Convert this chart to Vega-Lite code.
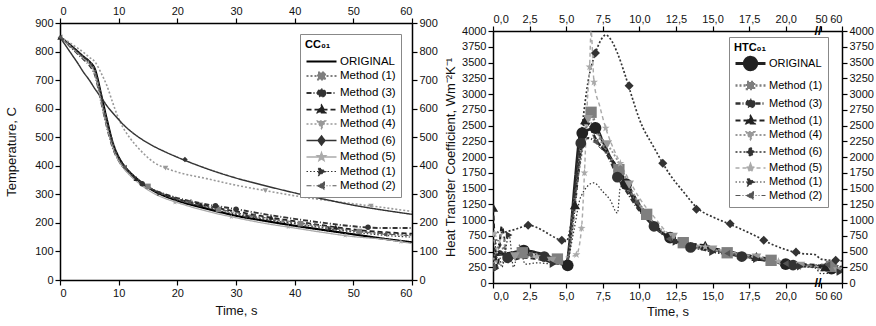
{
  "$schema": "https://vega.github.io/schema/vega-lite/v6.json",
  "background": "white",
  "padding": {"left": 5, "top": 5, "right": 0, "bottom": 0},
  "config": {
    "font": "Liberation Sans",
    "view": {"stroke": null},
    "axis": {"grid": false, "labelFontSize": 11, "titleFontSize": 13, "titleFontWeight": "normal", "domainColor": "#000", "tickColor": "#000", "labelColor": "#111", "titleColor": "#111", "domainWidth": 1.5, "tickWidth": 1.2, "tickSize": 5, "labelPadding": 2},
    "legend": {"labelFont": "Liberation Sans", "titleFont": "Liberation Sans"}
  },
  "resolve": {"scale": {"color": "independent", "strokeDash": "independent", "shape": "independent", "size": "independent", "strokeWidth": "independent"}, "legend": {"color": "independent"}},
  "spacing": 6,
  "datasets": {
    "L": [
      {"s":"0 ORIGINAL","t":0,"v":850},{"s":"0 ORIGINAL","t":1,"v":835},{"s":"0 ORIGINAL","t":2,"v":818},{"s":"0 ORIGINAL","t":3,"v":800},{"s":"0 ORIGINAL","t":4,"v":782},{"s":"0 ORIGINAL","t":5,"v":765},{"s":"0 ORIGINAL","t":6,"v":735},{"s":"0 ORIGINAL","t":7,"v":650},{"s":"0 ORIGINAL","t":8,"v":560},{"s":"0 ORIGINAL","t":9,"v":480},{"s":"0 ORIGINAL","t":10,"v":430},{"s":"0 ORIGINAL","t":11,"v":398},{"s":"0 ORIGINAL","t":12,"v":375},{"s":"0 ORIGINAL","t":14,"v":340},{"s":"0 ORIGINAL","t":16,"v":312},{"s":"0 ORIGINAL","t":18,"v":293},{"s":"0 ORIGINAL","t":20,"v":278},{"s":"0 ORIGINAL","t":25,"v":250},{"s":"0 ORIGINAL","t":30,"v":225},{"s":"0 ORIGINAL","t":35,"v":207},{"s":"0 ORIGINAL","t":40,"v":190},{"s":"0 ORIGINAL","t":45,"v":175},{"s":"0 ORIGINAL","t":50,"v":160},{"s":"0 ORIGINAL","t":55,"v":145},{"s":"0 ORIGINAL","t":60,"v":132},
      {"s":"1 Method (1)","t":0,"v":850},{"s":"1 Method (1)","t":1,"v":833},{"s":"1 Method (1)","t":2,"v":815},{"s":"1 Method (1)","t":3,"v":797},{"s":"1 Method (1)","t":4,"v":780},{"s":"1 Method (1)","t":5,"v":762},{"s":"1 Method (1)","t":6,"v":728},{"s":"1 Method (1)","t":7,"v":640},{"s":"1 Method (1)","t":8,"v":548},{"s":"1 Method (1)","t":9,"v":472},{"s":"1 Method (1)","t":10,"v":425},{"s":"1 Method (1)","t":11,"v":395},{"s":"1 Method (1)","t":12,"v":372},{"s":"1 Method (1)","t":14,"v":340},{"s":"1 Method (1)","t":16,"v":315},{"s":"1 Method (1)","t":18,"v":297},{"s":"1 Method (1)","t":20,"v":283},{"s":"1 Method (1)","t":25,"v":257},{"s":"1 Method (1)","t":30,"v":233},{"s":"1 Method (1)","t":35,"v":215},{"s":"1 Method (1)","t":40,"v":200},{"s":"1 Method (1)","t":45,"v":186},{"s":"1 Method (1)","t":50,"v":172},{"s":"1 Method (1)","t":55,"v":163},{"s":"1 Method (1)","t":60,"v":158},
      {"s":"2 Method (3)","t":0,"v":850},{"s":"2 Method (3)","t":1,"v":832},{"s":"2 Method (3)","t":2,"v":812},{"s":"2 Method (3)","t":3,"v":792},{"s":"2 Method (3)","t":4,"v":773},{"s":"2 Method (3)","t":5,"v":752},{"s":"2 Method (3)","t":6,"v":715},{"s":"2 Method (3)","t":7,"v":625},{"s":"2 Method (3)","t":8,"v":535},{"s":"2 Method (3)","t":9,"v":462},{"s":"2 Method (3)","t":10,"v":418},{"s":"2 Method (3)","t":11,"v":390},{"s":"2 Method (3)","t":12,"v":368},{"s":"2 Method (3)","t":14,"v":337},{"s":"2 Method (3)","t":16,"v":315},{"s":"2 Method (3)","t":18,"v":300},{"s":"2 Method (3)","t":20,"v":287},{"s":"2 Method (3)","t":25,"v":265},{"s":"2 Method (3)","t":30,"v":248},{"s":"2 Method (3)","t":35,"v":230},{"s":"2 Method (3)","t":40,"v":214},{"s":"2 Method (3)","t":45,"v":200},{"s":"2 Method (3)","t":50,"v":188},{"s":"2 Method (3)","t":55,"v":182},{"s":"2 Method (3)","t":60,"v":182},
      {"s":"3 Method (1)","t":0,"v":850},{"s":"3 Method (1)","t":1,"v":834},{"s":"3 Method (1)","t":2,"v":816},{"s":"3 Method (1)","t":3,"v":798},{"s":"3 Method (1)","t":4,"v":780},{"s":"3 Method (1)","t":5,"v":760},{"s":"3 Method (1)","t":6,"v":722},{"s":"3 Method (1)","t":7,"v":632},{"s":"3 Method (1)","t":8,"v":543},{"s":"3 Method (1)","t":9,"v":468},{"s":"3 Method (1)","t":10,"v":422},{"s":"3 Method (1)","t":11,"v":393},{"s":"3 Method (1)","t":12,"v":370},{"s":"3 Method (1)","t":14,"v":338},{"s":"3 Method (1)","t":16,"v":314},{"s":"3 Method (1)","t":18,"v":298},{"s":"3 Method (1)","t":20,"v":284},{"s":"3 Method (1)","t":25,"v":260},{"s":"3 Method (1)","t":30,"v":240},{"s":"3 Method (1)","t":35,"v":222},{"s":"3 Method (1)","t":40,"v":206},{"s":"3 Method (1)","t":45,"v":191},{"s":"3 Method (1)","t":50,"v":177},{"s":"3 Method (1)","t":55,"v":168},{"s":"3 Method (1)","t":60,"v":162},
      {"s":"4 Method (4)","t":0,"v":850},{"s":"4 Method (4)","t":1,"v":840},{"s":"4 Method (4)","t":2,"v":826},{"s":"4 Method (4)","t":3,"v":812},{"s":"4 Method (4)","t":4,"v":797},{"s":"4 Method (4)","t":5,"v":780},{"s":"4 Method (4)","t":6,"v":763},{"s":"4 Method (4)","t":7,"v":725},{"s":"4 Method (4)","t":8,"v":680},{"s":"4 Method (4)","t":9,"v":620},{"s":"4 Method (4)","t":10,"v":565},{"s":"4 Method (4)","t":11,"v":525},{"s":"4 Method (4)","t":12,"v":495},{"s":"4 Method (4)","t":14,"v":448},{"s":"4 Method (4)","t":16,"v":412},{"s":"4 Method (4)","t":18,"v":392},{"s":"4 Method (4)","t":20,"v":378},{"s":"4 Method (4)","t":25,"v":355},{"s":"4 Method (4)","t":30,"v":332},{"s":"4 Method (4)","t":35,"v":313},{"s":"4 Method (4)","t":40,"v":295},{"s":"4 Method (4)","t":45,"v":280},{"s":"4 Method (4)","t":50,"v":267},{"s":"4 Method (4)","t":55,"v":254},{"s":"4 Method (4)","t":60,"v":240},
      {"s":"5 Method (6)","t":0,"v":850},{"s":"5 Method (6)","t":1,"v":820},{"s":"5 Method (6)","t":2,"v":790},{"s":"5 Method (6)","t":3,"v":760},{"s":"5 Method (6)","t":4,"v":728},{"s":"5 Method (6)","t":5,"v":700},{"s":"5 Method (6)","t":6,"v":668},{"s":"5 Method (6)","t":7,"v":640},{"s":"5 Method (6)","t":8,"v":610},{"s":"5 Method (6)","t":9,"v":585},{"s":"5 Method (6)","t":10,"v":562},{"s":"5 Method (6)","t":11,"v":540},{"s":"5 Method (6)","t":12,"v":522},{"s":"5 Method (6)","t":14,"v":492},{"s":"5 Method (6)","t":16,"v":468},{"s":"5 Method (6)","t":18,"v":448},{"s":"5 Method (6)","t":20,"v":430},{"s":"5 Method (6)","t":25,"v":390},{"s":"5 Method (6)","t":30,"v":357},{"s":"5 Method (6)","t":35,"v":330},{"s":"5 Method (6)","t":40,"v":305},{"s":"5 Method (6)","t":45,"v":283},{"s":"5 Method (6)","t":50,"v":262},{"s":"5 Method (6)","t":55,"v":245},{"s":"5 Method (6)","t":60,"v":230},
      {"s":"6 Method (5)","t":0,"v":850},{"s":"6 Method (5)","t":1,"v":833},{"s":"6 Method (5)","t":2,"v":814},{"s":"6 Method (5)","t":3,"v":795},{"s":"6 Method (5)","t":4,"v":776},{"s":"6 Method (5)","t":5,"v":757},{"s":"6 Method (5)","t":6,"v":720},{"s":"6 Method (5)","t":7,"v":628},{"s":"6 Method (5)","t":8,"v":538},{"s":"6 Method (5)","t":9,"v":465},{"s":"6 Method (5)","t":10,"v":418},{"s":"6 Method (5)","t":11,"v":388},{"s":"6 Method (5)","t":12,"v":365},{"s":"6 Method (5)","t":14,"v":330},{"s":"6 Method (5)","t":16,"v":303},{"s":"6 Method (5)","t":18,"v":285},{"s":"6 Method (5)","t":20,"v":271},{"s":"6 Method (5)","t":25,"v":241},{"s":"6 Method (5)","t":30,"v":218},{"s":"6 Method (5)","t":35,"v":198},{"s":"6 Method (5)","t":40,"v":182},{"s":"6 Method (5)","t":45,"v":166},{"s":"6 Method (5)","t":50,"v":152},{"s":"6 Method (5)","t":55,"v":143},{"s":"6 Method (5)","t":60,"v":128},
      {"s":"7 Method (1)","t":0,"v":850},{"s":"7 Method (1)","t":1,"v":835},{"s":"7 Method (1)","t":2,"v":817},{"s":"7 Method (1)","t":3,"v":799},{"s":"7 Method (1)","t":4,"v":781},{"s":"7 Method (1)","t":5,"v":763},{"s":"7 Method (1)","t":6,"v":732},{"s":"7 Method (1)","t":7,"v":645},{"s":"7 Method (1)","t":8,"v":552},{"s":"7 Method (1)","t":9,"v":475},{"s":"7 Method (1)","t":10,"v":427},{"s":"7 Method (1)","t":11,"v":396},{"s":"7 Method (1)","t":12,"v":373},{"s":"7 Method (1)","t":14,"v":340},{"s":"7 Method (1)","t":16,"v":314},{"s":"7 Method (1)","t":18,"v":296},{"s":"7 Method (1)","t":20,"v":281},{"s":"7 Method (1)","t":25,"v":254},{"s":"7 Method (1)","t":30,"v":230},{"s":"7 Method (1)","t":35,"v":212},{"s":"7 Method (1)","t":40,"v":197},{"s":"7 Method (1)","t":45,"v":182},{"s":"7 Method (1)","t":50,"v":168},{"s":"7 Method (1)","t":55,"v":157},{"s":"7 Method (1)","t":60,"v":150},
      {"s":"8 Method (2)","t":0,"v":850},{"s":"8 Method (2)","t":1,"v":834},{"s":"8 Method (2)","t":2,"v":815},{"s":"8 Method (2)","t":3,"v":796},{"s":"8 Method (2)","t":4,"v":778},{"s":"8 Method (2)","t":5,"v":758},{"s":"8 Method (2)","t":6,"v":725},{"s":"8 Method (2)","t":7,"v":635},{"s":"8 Method (2)","t":8,"v":545},{"s":"8 Method (2)","t":9,"v":470},{"s":"8 Method (2)","t":10,"v":424},{"s":"8 Method (2)","t":11,"v":394},{"s":"8 Method (2)","t":12,"v":371},{"s":"8 Method (2)","t":14,"v":339},{"s":"8 Method (2)","t":16,"v":316},{"s":"8 Method (2)","t":18,"v":299},{"s":"8 Method (2)","t":20,"v":285},{"s":"8 Method (2)","t":25,"v":259},{"s":"8 Method (2)","t":30,"v":236},{"s":"8 Method (2)","t":35,"v":218},{"s":"8 Method (2)","t":40,"v":203},{"s":"8 Method (2)","t":45,"v":189},{"s":"8 Method (2)","t":50,"v":173},{"s":"8 Method (2)","t":55,"v":162},{"s":"8 Method (2)","t":60,"v":155}
    ],
    "LM": [
      {"m":"1 Method (1)","t":15,"v":328},{"m":"1 Method (1)","t":27,"v":247},{"m":"1 Method (1)","t":41,"v":197},{"m":"1 Method (1)","t":51,"v":170},
      {"m":"2 Method (3)","t":14,"v":337},{"m":"2 Method (3)","t":26.5,"v":260},{"m":"2 Method (3)","t":30,"v":248},{"m":"2 Method (3)","t":52.5,"v":185},
      {"m":"3 Method (1)","t":0,"v":850},{"m":"3 Method (1)","t":13,"v":355},{"m":"3 Method (1)","t":24,"v":264},{"m":"3 Method (1)","t":36,"v":219},{"m":"3 Method (1)","t":47,"v":185},
      {"m":"4 Method (4)","t":18,"v":392},{"m":"4 Method (4)","t":35,"v":313},{"m":"4 Method (4)","t":53,"v":259},
      {"m":"5 Method (6)","t":21.3,"v":422},{"m":"5 Method (6)","t":42.3,"v":296},
      {"m":"6 Method (5)","t":19.6,"v":272},{"m":"6 Method (5)","t":29.2,"v":221},{"m":"6 Method (5)","t":38.9,"v":186},{"m":"6 Method (5)","t":48.6,"v":156},{"m":"6 Method (5)","t":58.1,"v":134},
      {"m":"7 Method (1)","t":17,"v":304},{"m":"7 Method (1)","t":32,"v":223},{"m":"7 Method (1)","t":46,"v":179},
      {"m":"8 Method (2)","t":0,"v":850},{"m":"8 Method (2)","t":11,"v":394},{"m":"8 Method (2)","t":22,"v":274},{"m":"8 Method (2)","t":33,"v":225},{"m":"8 Method (2)","t":55.4,"v":160}
    ],
    "R": [
      {"s":"0 ORIGINAL","t":0,"v":440},{"s":"0 ORIGINAL","t":0.5,"v":455},{"s":"0 ORIGINAL","t":1,"v":470},{"s":"0 ORIGINAL","t":1.5,"v":490},{"s":"0 ORIGINAL","t":2,"v":510},{"s":"0 ORIGINAL","t":2.5,"v":505},{"s":"0 ORIGINAL","t":3,"v":480},{"s":"0 ORIGINAL","t":3.5,"v":450},{"s":"0 ORIGINAL","t":4,"v":400},{"s":"0 ORIGINAL","t":4.5,"v":340},{"s":"0 ORIGINAL","t":5,"v":275},{"s":"0 ORIGINAL","t":5.3,"v":800},{"s":"0 ORIGINAL","t":5.6,"v":1600},{"s":"0 ORIGINAL","t":6,"v":2380},{"s":"0 ORIGINAL","t":6.5,"v":2430},{"s":"0 ORIGINAL","t":7,"v":2460},{"s":"0 ORIGINAL","t":7.5,"v":2250},{"s":"0 ORIGINAL","t":8,"v":2000},{"s":"0 ORIGINAL","t":8.5,"v":1800},{"s":"0 ORIGINAL","t":9,"v":1600},{"s":"0 ORIGINAL","t":9.5,"v":1380},{"s":"0 ORIGINAL","t":10,"v":1180},{"s":"0 ORIGINAL","t":11,"v":900},{"s":"0 ORIGINAL","t":12,"v":730},{"s":"0 ORIGINAL","t":13,"v":640},{"s":"0 ORIGINAL","t":14,"v":580},{"s":"0 ORIGINAL","t":15,"v":530},{"s":"0 ORIGINAL","t":16,"v":490},{"s":"0 ORIGINAL","t":17,"v":450},{"s":"0 ORIGINAL","t":18,"v":400},{"s":"0 ORIGINAL","t":19,"v":350},{"s":"0 ORIGINAL","t":20,"v":300},{"s":"0 ORIGINAL","t":21,"v":280},{"s":"0 ORIGINAL","t":21.8,"v":270},{"s":"0 ORIGINAL","t":50,"v":250},{"s":"0 ORIGINAL","t":55,"v":230},{"s":"0 ORIGINAL","t":60,"v":200},
      {"s":"1 Method (1)","t":0,"v":300},{"s":"1 Method (1)","t":0.5,"v":600},{"s":"1 Method (1)","t":1,"v":450},{"s":"1 Method (1)","t":2,"v":480},{"s":"1 Method (1)","t":3,"v":450},{"s":"1 Method (1)","t":4,"v":400},{"s":"1 Method (1)","t":4.4,"v":380},{"s":"1 Method (1)","t":5,"v":330},{"s":"1 Method (1)","t":5.5,"v":1200},{"s":"1 Method (1)","t":6,"v":2000},{"s":"1 Method (1)","t":6.5,"v":2600},{"s":"1 Method (1)","t":6.7,"v":2710},{"s":"1 Method (1)","t":7,"v":2500},{"s":"1 Method (1)","t":7.5,"v":2200},{"s":"1 Method (1)","t":8,"v":2000},{"s":"1 Method (1)","t":8.6,"v":1800},{"s":"1 Method (1)","t":9,"v":1600},{"s":"1 Method (1)","t":10,"v":1250},{"s":"1 Method (1)","t":10.5,"v":1090},{"s":"1 Method (1)","t":11,"v":930},{"s":"1 Method (1)","t":12,"v":730},{"s":"1 Method (1)","t":13,"v":640},{"s":"1 Method (1)","t":14,"v":580},{"s":"1 Method (1)","t":15,"v":530},{"s":"1 Method (1)","t":16,"v":480},{"s":"1 Method (1)","t":17,"v":440},{"s":"1 Method (1)","t":18,"v":400},{"s":"1 Method (1)","t":19,"v":360},{"s":"1 Method (1)","t":20,"v":320},{"s":"1 Method (1)","t":21,"v":290},{"s":"1 Method (1)","t":22,"v":280},{"s":"1 Method (1)","t":50,"v":280},{"s":"1 Method (1)","t":55,"v":265},{"s":"1 Method (1)","t":60,"v":240},
      {"s":"2 Method (3)","t":0,"v":350},{"s":"2 Method (3)","t":0.5,"v":500},{"s":"2 Method (3)","t":1,"v":400},{"s":"2 Method (3)","t":2,"v":450},{"s":"2 Method (3)","t":3,"v":440},{"s":"2 Method (3)","t":3.5,"v":420},{"s":"2 Method (3)","t":4,"v":400},{"s":"2 Method (3)","t":5,"v":300},{"s":"2 Method (3)","t":5.5,"v":1200},{"s":"2 Method (3)","t":6,"v":2220},{"s":"2 Method (3)","t":6.5,"v":2300},{"s":"2 Method (3)","t":7,"v":2250},{"s":"2 Method (3)","t":8,"v":1950},{"s":"2 Method (3)","t":8.5,"v":1680},{"s":"2 Method (3)","t":9,"v":1500},{"s":"2 Method (3)","t":10,"v":1150},{"s":"2 Method (3)","t":11,"v":900},{"s":"2 Method (3)","t":12,"v":700},{"s":"2 Method (3)","t":13,"v":600},{"s":"2 Method (3)","t":13.5,"v":565},{"s":"2 Method (3)","t":14,"v":550},{"s":"2 Method (3)","t":15,"v":500},{"s":"2 Method (3)","t":16,"v":460},{"s":"2 Method (3)","t":17,"v":420},{"s":"2 Method (3)","t":18,"v":380},{"s":"2 Method (3)","t":19,"v":340},{"s":"2 Method (3)","t":20,"v":300},{"s":"2 Method (3)","t":20.5,"v":285},{"s":"2 Method (3)","t":21,"v":270},{"s":"2 Method (3)","t":22,"v":260},{"s":"2 Method (3)","t":50,"v":280},{"s":"2 Method (3)","t":60,"v":250},
      {"s":"3 Method (1)","t":0,"v":1200},{"s":"3 Method (1)","t":0.3,"v":250},{"s":"3 Method (1)","t":0.6,"v":900},{"s":"3 Method (1)","t":1,"v":350},{"s":"3 Method (1)","t":2,"v":400},{"s":"3 Method (1)","t":3,"v":380},{"s":"3 Method (1)","t":4,"v":330},{"s":"3 Method (1)","t":5,"v":290},{"s":"3 Method (1)","t":5.3,"v":700},{"s":"3 Method (1)","t":5.6,"v":1240},{"s":"3 Method (1)","t":6,"v":2100},{"s":"3 Method (1)","t":6.3,"v":2590},{"s":"3 Method (1)","t":6.6,"v":2500},{"s":"3 Method (1)","t":7,"v":2300},{"s":"3 Method (1)","t":8,"v":2000},{"s":"3 Method (1)","t":9,"v":1650},{"s":"3 Method (1)","t":10,"v":1250},{"s":"3 Method (1)","t":11,"v":950},{"s":"3 Method (1)","t":12,"v":720},{"s":"3 Method (1)","t":13,"v":650},{"s":"3 Method (1)","t":14,"v":610},{"s":"3 Method (1)","t":14.5,"v":600},{"s":"3 Method (1)","t":15,"v":560},{"s":"3 Method (1)","t":16,"v":510},{"s":"3 Method (1)","t":17,"v":460},{"s":"3 Method (1)","t":18,"v":420},{"s":"3 Method (1)","t":19,"v":380},{"s":"3 Method (1)","t":20,"v":330},{"s":"3 Method (1)","t":21,"v":300},{"s":"3 Method (1)","t":22,"v":290},{"s":"3 Method (1)","t":50,"v":260},{"s":"3 Method (1)","t":52,"v":255},{"s":"3 Method (1)","t":60,"v":230},
      {"s":"4 Method (4)","t":0,"v":400},{"s":"4 Method (4)","t":0.5,"v":300},{"s":"4 Method (4)","t":1,"v":420},{"s":"4 Method (4)","t":2,"v":420},{"s":"4 Method (4)","t":3,"v":400},{"s":"4 Method (4)","t":4,"v":350},{"s":"4 Method (4)","t":5,"v":300},{"s":"4 Method (4)","t":5.5,"v":1000},{"s":"4 Method (4)","t":6,"v":2200},{"s":"4 Method (4)","t":6.5,"v":2600},{"s":"4 Method (4)","t":7,"v":2400},{"s":"4 Method (4)","t":7.8,"v":2200},{"s":"4 Method (4)","t":8.5,"v":1950},{"s":"4 Method (4)","t":9.3,"v":1560},{"s":"4 Method (4)","t":10,"v":1250},{"s":"4 Method (4)","t":11,"v":950},{"s":"4 Method (4)","t":12.3,"v":730},{"s":"4 Method (4)","t":13,"v":650},{"s":"4 Method (4)","t":14,"v":580},{"s":"4 Method (4)","t":15,"v":530},{"s":"4 Method (4)","t":16,"v":480},{"s":"4 Method (4)","t":17,"v":440},{"s":"4 Method (4)","t":18,"v":400},{"s":"4 Method (4)","t":19,"v":350},{"s":"4 Method (4)","t":20,"v":300},{"s":"4 Method (4)","t":21,"v":270},{"s":"4 Method (4)","t":22,"v":250},{"s":"4 Method (4)","t":50,"v":200},{"s":"4 Method (4)","t":60,"v":180},
      {"s":"5 Method (6)","t":0,"v":830},{"s":"5 Method (6)","t":0.5,"v":800},{"s":"5 Method (6)","t":1,"v":820},{"s":"5 Method (6)","t":1.5,"v":850},{"s":"5 Method (6)","t":2,"v":890},{"s":"5 Method (6)","t":2.5,"v":915},{"s":"5 Method (6)","t":3,"v":880},{"s":"5 Method (6)","t":3.5,"v":820},{"s":"5 Method (6)","t":4,"v":750},{"s":"5 Method (6)","t":4.5,"v":690},{"s":"5 Method (6)","t":5,"v":660},{"s":"5 Method (6)","t":5.3,"v":900},{"s":"5 Method (6)","t":5.7,"v":1600},{"s":"5 Method (6)","t":6.1,"v":2500},{"s":"5 Method (6)","t":6.5,"v":3200},{"s":"5 Method (6)","t":7,"v":3650},{"s":"5 Method (6)","t":7.5,"v":3900},{"s":"5 Method (6)","t":7.7,"v":3940},{"s":"5 Method (6)","t":8,"v":3880},{"s":"5 Method (6)","t":8.5,"v":3650},{"s":"5 Method (6)","t":9,"v":3320},{"s":"5 Method (6)","t":9.5,"v":2950},{"s":"5 Method (6)","t":10,"v":2600},{"s":"5 Method (6)","t":11,"v":2150},{"s":"5 Method (6)","t":12,"v":1750},{"s":"5 Method (6)","t":13,"v":1450},{"s":"5 Method (6)","t":14,"v":1180},{"s":"5 Method (6)","t":15,"v":1050},{"s":"5 Method (6)","t":16,"v":950},{"s":"5 Method (6)","t":17,"v":850},{"s":"5 Method (6)","t":18,"v":740},{"s":"5 Method (6)","t":19,"v":620},{"s":"5 Method (6)","t":20,"v":530},{"s":"5 Method (6)","t":21,"v":470},{"s":"5 Method (6)","t":22,"v":450},{"s":"5 Method (6)","t":50,"v":380},{"s":"5 Method (6)","t":60,"v":350},
      {"s":"6 Method (5)","t":0,"v":800},{"s":"6 Method (5)","t":0.3,"v":500},{"s":"6 Method (5)","t":0.6,"v":780},{"s":"6 Method (5)","t":1,"v":430},{"s":"6 Method (5)","t":1.5,"v":420},{"s":"6 Method (5)","t":2,"v":420},{"s":"6 Method (5)","t":3,"v":420},{"s":"6 Method (5)","t":4,"v":415},{"s":"6 Method (5)","t":5,"v":415},{"s":"6 Method (5)","t":5.5,"v":430},{"s":"6 Method (5)","t":5.7,"v":450},{"s":"6 Method (5)","t":6.05,"v":870},{"s":"6 Method (5)","t":6.25,"v":1750},{"s":"6 Method (5)","t":6.45,"v":2900},{"s":"6 Method (5)","t":6.6,"v":3430},{"s":"6 Method (5)","t":6.7,"v":4000},{"s":"6 Method (5)","t":6.9,"v":3190},{"s":"6 Method (5)","t":7.3,"v":2800},{"s":"6 Method (5)","t":7.7,"v":2460},{"s":"6 Method (5)","t":8.2,"v":2150},{"s":"6 Method (5)","t":8.7,"v":1900},{"s":"6 Method (5)","t":9.5,"v":1550},{"s":"6 Method (5)","t":10,"v":1350},{"s":"6 Method (5)","t":11,"v":1050},{"s":"6 Method (5)","t":12,"v":780},{"s":"6 Method (5)","t":13,"v":660},{"s":"6 Method (5)","t":14,"v":600},{"s":"6 Method (5)","t":15,"v":550},{"s":"6 Method (5)","t":16,"v":500},{"s":"6 Method (5)","t":17,"v":460},{"s":"6 Method (5)","t":18,"v":420},{"s":"6 Method (5)","t":19,"v":370},{"s":"6 Method (5)","t":20,"v":320},{"s":"6 Method (5)","t":21,"v":290},{"s":"6 Method (5)","t":22,"v":270},{"s":"6 Method (5)","t":50,"v":240},{"s":"6 Method (5)","t":60,"v":200},
      {"s":"7 Method (1)","t":0,"v":230},{"s":"7 Method (1)","t":0.3,"v":700},{"s":"7 Method (1)","t":0.6,"v":250},{"s":"7 Method (1)","t":1.1,"v":760},{"s":"7 Method (1)","t":1.4,"v":250},{"s":"7 Method (1)","t":1.8,"v":600},{"s":"7 Method (1)","t":2.2,"v":300},{"s":"7 Method (1)","t":3,"v":320},{"s":"7 Method (1)","t":4.1,"v":300},{"s":"7 Method (1)","t":5,"v":290},{"s":"7 Method (1)","t":5.5,"v":800},{"s":"7 Method (1)","t":6,"v":1370},{"s":"7 Method (1)","t":6.9,"v":1590},{"s":"7 Method (1)","t":7.5,"v":1450},{"s":"7 Method (1)","t":8,"v":1320},{"s":"7 Method (1)","t":8.5,"v":1110},{"s":"7 Method (1)","t":8.7,"v":1520},{"s":"7 Method (1)","t":9,"v":1550},{"s":"7 Method (1)","t":10,"v":1200},{"s":"7 Method (1)","t":11,"v":920},{"s":"7 Method (1)","t":12,"v":720},{"s":"7 Method (1)","t":12.5,"v":650},{"s":"7 Method (1)","t":13,"v":600},{"s":"7 Method (1)","t":14,"v":540},{"s":"7 Method (1)","t":15,"v":490},{"s":"7 Method (1)","t":16,"v":450},{"s":"7 Method (1)","t":17,"v":410},{"s":"7 Method (1)","t":18,"v":380},{"s":"7 Method (1)","t":19,"v":330},{"s":"7 Method (1)","t":20,"v":290},{"s":"7 Method (1)","t":21,"v":260},{"s":"7 Method (1)","t":22,"v":240},{"s":"7 Method (1)","t":50,"v":150},{"s":"7 Method (1)","t":59,"v":175},{"s":"7 Method (1)","t":60,"v":180},
      {"s":"8 Method (2)","t":0,"v":250},{"s":"8 Method (2)","t":0.5,"v":450},{"s":"8 Method (2)","t":1,"v":380},{"s":"8 Method (2)","t":2,"v":420},{"s":"8 Method (2)","t":2.5,"v":450},{"s":"8 Method (2)","t":3,"v":430},{"s":"8 Method (2)","t":4,"v":400},{"s":"8 Method (2)","t":5,"v":320},{"s":"8 Method (2)","t":5.5,"v":1100},{"s":"8 Method (2)","t":6,"v":2000},{"s":"8 Method (2)","t":6.5,"v":2500},{"s":"8 Method (2)","t":7,"v":2240},{"s":"8 Method (2)","t":8,"v":2000},{"s":"8 Method (2)","t":9,"v":1600},{"s":"8 Method (2)","t":9.8,"v":1280},{"s":"8 Method (2)","t":10,"v":1200},{"s":"8 Method (2)","t":11,"v":900},{"s":"8 Method (2)","t":12,"v":700},{"s":"8 Method (2)","t":13,"v":610},{"s":"8 Method (2)","t":14,"v":550},{"s":"8 Method (2)","t":15,"v":510},{"s":"8 Method (2)","t":16,"v":470},{"s":"8 Method (2)","t":17,"v":430},{"s":"8 Method (2)","t":18,"v":390},{"s":"8 Method (2)","t":19,"v":350},{"s":"8 Method (2)","t":20,"v":310},{"s":"8 Method (2)","t":21,"v":280},{"s":"8 Method (2)","t":22,"v":270},{"s":"8 Method (2)","t":50,"v":300},{"s":"8 Method (2)","t":53,"v":290},{"s":"8 Method (2)","t":60,"v":270}
    ],
    "RM": [
      {"m":"0 ORIGINAL","t":2.1,"v":515},{"m":"0 ORIGINAL","t":5.1,"v":280},{"m":"0 ORIGINAL","t":6.1,"v":2380},{"m":"0 ORIGINAL","t":7.0,"v":2460},{"m":"0 ORIGINAL","t":9.1,"v":1570},{"m":"0 ORIGINAL","t":12.1,"v":720},{"m":"0 ORIGINAL","t":20,"v":300},{"m":"0 ORIGINAL","t":55,"v":230},
      {"m":"1 Method (1)","t":2,"v":480},{"m":"1 Method (1)","t":4.4,"v":380},{"m":"1 Method (1)","t":6.7,"v":2710},{"m":"1 Method (1)","t":8.6,"v":1800},{"m":"1 Method (1)","t":10.5,"v":1090},{"m":"1 Method (1)","t":13,"v":640},{"m":"1 Method (1)","t":16,"v":480},{"m":"1 Method (1)","t":19,"v":360},{"m":"1 Method (1)","t":55,"v":265},
      {"m":"2 Method (3)","t":1,"v":400},{"m":"2 Method (3)","t":3.5,"v":420},{"m":"2 Method (3)","t":6,"v":2220},{"m":"2 Method (3)","t":8.5,"v":1680},{"m":"2 Method (3)","t":11,"v":900},{"m":"2 Method (3)","t":13.5,"v":565},{"m":"2 Method (3)","t":17,"v":420},{"m":"2 Method (3)","t":20.5,"v":285},
      {"m":"3 Method (1)","t":0,"v":1200},{"m":"3 Method (1)","t":5.6,"v":1240},{"m":"3 Method (1)","t":6.3,"v":2590},{"m":"3 Method (1)","t":14.5,"v":600},{"m":"3 Method (1)","t":18,"v":420},{"m":"3 Method (1)","t":52,"v":255},
      {"m":"4 Method (4)","t":1.5,"v":420},{"m":"4 Method (4)","t":4,"v":350},{"m":"4 Method (4)","t":6.5,"v":2600},{"m":"4 Method (4)","t":7.8,"v":2200},{"m":"4 Method (4)","t":9.3,"v":1560},{"m":"4 Method (4)","t":12.3,"v":730},{"m":"4 Method (4)","t":15,"v":530},{"m":"4 Method (4)","t":18,"v":400},{"m":"4 Method (4)","t":21,"v":270},{"m":"4 Method (4)","t":58,"v":185},
      {"m":"5 Method (6)","t":2.4,"v":915},{"m":"5 Method (6)","t":4.7,"v":680},{"m":"5 Method (6)","t":7.0,"v":3650},{"m":"5 Method (6)","t":9.3,"v":3130},{"m":"5 Method (6)","t":11.6,"v":1900},{"m":"5 Method (6)","t":13.9,"v":1170},{"m":"5 Method (6)","t":16.2,"v":940},{"m":"5 Method (6)","t":18.5,"v":680},{"m":"5 Method (6)","t":20.7,"v":490},{"m":"5 Method (6)","t":57,"v":360},
      {"m":"6 Method (5)","t":0.1,"v":780},{"m":"6 Method (5)","t":3,"v":420},{"m":"6 Method (5)","t":5.7,"v":450},{"m":"6 Method (5)","t":6.05,"v":870},{"m":"6 Method (5)","t":6.25,"v":1750},{"m":"6 Method (5)","t":6.6,"v":3430},{"m":"6 Method (5)","t":6.9,"v":3190},{"m":"6 Method (5)","t":7.7,"v":2460},{"m":"6 Method (5)","t":8.7,"v":1900},{"m":"6 Method (5)","t":14.5,"v":575},{"m":"6 Method (5)","t":19.5,"v":345},
      {"m":"7 Method (1)","t":0.2,"v":230},{"m":"7 Method (1)","t":1.1,"v":760},{"m":"7 Method (1)","t":4.1,"v":300},{"m":"7 Method (1)","t":12.5,"v":650},{"m":"7 Method (1)","t":15,"v":490},{"m":"7 Method (1)","t":18,"v":380},{"m":"7 Method (1)","t":21,"v":260},{"m":"7 Method (1)","t":59,"v":175},
      {"m":"8 Method (2)","t":0,"v":250},{"m":"8 Method (2)","t":2.5,"v":450},{"m":"8 Method (2)","t":7,"v":2240},{"m":"8 Method (2)","t":9.8,"v":1280},{"m":"8 Method (2)","t":12,"v":700},{"m":"8 Method (2)","t":16,"v":470},{"m":"8 Method (2)","t":20,"v":310},{"m":"8 Method (2)","t":53,"v":290}
    ],
    "BRK": [
      {"t":36,"v":0,"txt":"//"},{"t":36,"v":4000,"txt":"//"}
    ]
  },
  "hconcat": [
    {
      "width": 352,
      "height": 257,
      "resolve": {"axis": {"x": "independent", "y": "independent"}},
      "layer": [
        {
          "data": {"name": "L"},
          "mark": {"type": "line", "interpolate": "monotone"},
          "encoding": {
            "x": {"field": "t", "type": "quantitative", "scale": {"domain": [0, 60], "nice": false}, "axis": {"orient": "bottom", "title": "Time, s", "values": [0,10,20,30,40,50,60], "titlePadding": 6}},
            "y": {"field": "v", "type": "quantitative", "scale": {"domain": [0, 900], "nice": false}, "axis": {"orient": "left", "title": "Temperature, C", "values": [0,100,200,300,400,500,600,700,800,900], "titlePadding": 16}},
            "color": {"field": "s", "type": "nominal",
              "scale": {"domain": ["0 ORIGINAL","1 Method (1)","2 Method (3)","3 Method (1)","4 Method (4)","5 Method (6)","6 Method (5)","7 Method (1)","8 Method (2)"], "range": ["#000000","#7f7f7f","#333333","#222222","#999999","#333333","#aaaaaa","#333333","#555555"]},
              "legend": {"title": "CC₀₁", "orient": "top-right", "offset": 11, "fillColor": "white", "strokeColor": "#888", "padding": 5, "labelExpr": "slice(datum.label, 2)", "symbolSize": 100, "labelFontSize": 11.5, "titleFontSize": 11, "titleFontWeight": "bold", "rowPadding": 0.5, "labelOffset": 22, "titlePadding": 5,
                "encode": {"symbols": {"update": {
                  "shape": {"signal": "['M-1,0H5','M-1,0H5M1.3,-0.7H2.7V0.7H1.3Z','M-1,0H5M2.75,0A0.75,0.75,0,1,1,1.25,0A0.75,0.75,0,1,1,2.75,0Z','M-1,0H5M2,-0.85L2.8,0.6H1.2Z','M-1,0H5M2,0.85L2.8,-0.6H1.2Z','M-1,0H5M2,-0.9L2.7,0L2,0.9L1.3,0Z','M-1,0H5M2,-0.9L2.217,-0.299L2.856,-0.278L2.352,0.114L2.529,0.728L2,0.37L1.471,0.728L1.648,0.114L1.144,-0.278L1.783,-0.299Z','M-1,0H5M2.85,0L1.4,0.8V-0.8Z','M-1,0H5M1.15,0L2.6,0.8V-0.8Z'][toNumber(slice(datum.value,0,1))]"},
                  "fill": {"signal": "['#000000','#7f7f7f','#333333','#222222','#999999','#333333','#aaaaaa','#333333','#555555'][toNumber(slice(datum.value,0,1))]"},
                  "strokeWidth": {"signal": "toNumber(slice(datum.value,0,1)) == 0 ? 2.5 : 1"}
                }}}}},
            "strokeDash": {"field": "s", "type": "nominal",
              "scale": {"domain": ["0 ORIGINAL","1 Method (1)","2 Method (3)","3 Method (1)","4 Method (4)","5 Method (6)","6 Method (5)","7 Method (1)","8 Method (2)"], "range": [[1,0],[2,2],[5,2,1,2],[5,3],[2,2],[1,0],[1,0],[1.5,2],[5,2,1,2,1,2]]}},
            "strokeWidth": {"field": "s", "type": "ordinal",
              "scale": {"domain": ["0 ORIGINAL","1 Method (1)","2 Method (3)","3 Method (1)","4 Method (4)","5 Method (6)","6 Method (5)","7 Method (1)","8 Method (2)"], "range": [2.2,1,1,1,1,1,1,1,1]}, "legend": null}
          }
        },
        {
          "data": {"name": "LM"},
          "mark": {"type": "point", "filled": true, "opacity": 1},
          "encoding": {
            "x": {"field": "t", "type": "quantitative", "axis": {"orient": "top", "title": null, "values": [0,10,20,30,40,50,60]}},
            "y": {"field": "v", "type": "quantitative", "axis": {"orient": "right", "title": null, "values": [0,100,200,300,400,500,600,700,800,900]}},
            "color": {"field": "m", "type": "nominal", "legend": null},
            "shape": {"field": "m", "type": "nominal", "legend": null,
              "scale": {"domain": ["0 ORIGINAL","1 Method (1)","2 Method (3)","3 Method (1)","4 Method (4)","5 Method (6)","6 Method (5)","7 Method (1)","8 Method (2)","zz"], "range": ["circle","square","circle","triangle-up","triangle-down","diamond","M0,-1L0.235,-0.324L0.951,-0.309L0.38,0.124L0.588,0.809L0,0.4L-0.588,0.809L-0.38,0.124L-0.951,-0.309L-0.235,-0.324Z","triangle-right","triangle-left","circle"]}},
            "size": {"value": 30}
          }
        }
      ]
    },
    {
      "width": 349,
      "height": 260,
      "resolve": {"axis": {"x": "independent", "y": "independent"}},
      "layer": [
        {
          "data": {"name": "R"},
          "mark": {"type": "line", "interpolate": "monotone", "clip": true},
          "encoding": {
            "x": {"field": "t", "type": "quantitative", "scale": {"domain": [0, 22, 50, 60], "range": [0, 322, 328, 349], "nice": false, "zero": false}, "axis": {"orient": "bottom", "title": "Time, s", "labelOverlap": false, "values": [0,2.5,5,7.5,10,12.5,15,17.5,20,50,60], "labelExpr": "datum.value >= 50 ? format(datum.value, 'd') : replace(format(datum.value, '.1f'), '.', ',')", "titlePadding": 4}},
            "y": {"field": "v", "type": "quantitative", "scale": {"domain": [0, 4000], "range": [260, 8], "nice": false}, "axis": {"orient": "left", "format": "d", "title": "Heat Transfer Coefficient, Wm⁻²K⁻¹", "values": [0,250,500,750,1000,1250,1500,1750,2000,2250,2500,2750,3000,3250,3500,3750,4000], "titlePadding": 4}},
            "color": {"field": "s", "type": "nominal",
              "scale": {"domain": ["0 ORIGINAL","1 Method (1)","2 Method (3)","3 Method (1)","4 Method (4)","5 Method (6)","6 Method (5)","7 Method (1)","8 Method (2)"], "range": ["#222222","#7f7f7f","#333333","#222222","#999999","#333333","#aaaaaa","#333333","#555555"]},
              "legend": {"title": "HTC₀₁", "orient": "top-right", "offset": 14, "fillColor": "white", "strokeColor": "#888", "padding": 5, "labelExpr": "slice(datum.label, 2)", "symbolSize": 100, "labelFontSize": 11, "titleFontSize": 11, "titleFontWeight": "bold", "rowPadding": 0, "labelOffset": 22, "titlePadding": 4,
                "encode": {"symbols": {"update": {
                  "shape": {"signal": "['M-1,0H5M3.25,0A1.25,1.25,0,1,1,0.75,0A1.25,1.25,0,1,1,3.25,0Z','M-1,0H5M1.3,-0.7H2.7V0.7H1.3Z','M-1,0H5M2.75,0A0.75,0.75,0,1,1,1.25,0A0.75,0.75,0,1,1,2.75,0Z','M-1,0H5M2,-0.85L2.8,0.6H1.2Z','M-1,0H5M2,0.85L2.8,-0.6H1.2Z','M-1,0H5M2,-0.9L2.7,0L2,0.9L1.3,0Z','M-1,0H5M2,-0.9L2.217,-0.299L2.856,-0.278L2.352,0.114L2.529,0.728L2,0.37L1.471,0.728L1.648,0.114L1.144,-0.278L1.783,-0.299Z','M-1,0H5M2.85,0L1.4,0.8V-0.8Z','M-1,0H5M1.15,0L2.6,0.8V-0.8Z'][toNumber(slice(datum.value,0,1))]"},
                  "fill": {"signal": "['#222222','#7f7f7f','#333333','#222222','#999999','#333333','#aaaaaa','#333333','#555555'][toNumber(slice(datum.value,0,1))]"},
                  "strokeWidth": {"signal": "toNumber(slice(datum.value,0,1)) == 0 ? 2.5 : 1"}
                }}}}},
            "strokeDash": {"field": "s", "type": "nominal",
              "scale": {"domain": ["0 ORIGINAL","1 Method (1)","2 Method (3)","3 Method (1)","4 Method (4)","5 Method (6)","6 Method (5)","7 Method (1)","8 Method (2)"], "range": [[1,0],[2,2],[5,2,1,2],[5,3],[2,2],[2,2],[4,3],[1.5,2],[5,2,1,2,1,2]]}},
            "strokeWidth": {"field": "s", "type": "ordinal",
              "scale": {"domain": ["0 ORIGINAL","1 Method (1)","2 Method (3)","3 Method (1)","4 Method (4)","5 Method (6)","6 Method (5)","7 Method (1)","8 Method (2)"], "range": [2.8,1,1,1,1,1,1,1,1]}, "legend": null}
          }
        },
        {
          "data": {"name": "RM"},
          "mark": {"type": "point", "filled": true, "opacity": 1, "clip": true},
          "encoding": {
            "x": {"field": "t", "type": "quantitative", "axis": {"orient": "top", "offset": -8, "title": null, "labelOverlap": false, "values": [0,2.5,5,7.5,10,12.5,15,17.5,20,50,60], "labelExpr": "datum.value >= 50 ? format(datum.value, 'd') : replace(format(datum.value, '.1f'), '.', ',')"}},
            "y": {"field": "v", "type": "quantitative", "axis": {"orient": "right", "format": "d", "title": null, "values": [0,250,500,750,1000,1250,1500,1750,2000,2250,2500,2750,3000,3250,3500,3750,4000]}},
            "color": {"field": "m", "type": "nominal", "legend": null},
            "shape": {"field": "m", "type": "nominal", "legend": null,
              "scale": {"domain": ["0 ORIGINAL","1 Method (1)","2 Method (3)","3 Method (1)","4 Method (4)","5 Method (6)","6 Method (5)","7 Method (1)","8 Method (2)","zz"], "range": ["circle","square","circle","triangle-up","triangle-down","diamond","M0,-1L0.235,-0.324L0.951,-0.309L0.38,0.124L0.588,0.809L0,0.4L-0.588,0.809L-0.38,0.124L-0.951,-0.309L-0.235,-0.324Z","triangle-right","triangle-left","circle"]}},
            "size": {"field": "m", "type": "ordinal", "legend": null,
              "scale": {"domain": ["0 ORIGINAL","1 Method (1)","2 Method (3)","3 Method (1)","4 Method (4)","5 Method (6)","6 Method (5)","7 Method (1)","8 Method (2)","zz"], "range": [140,35,35,35,35,35,35,35,35,35]}}
          }
        },
        {
          "data": {"name": "BRK"},
          "mark": {"type": "text", "fontSize": 13, "fontWeight": "bold", "color": "#000"},
          "encoding": {
            "x": {"field": "t", "type": "quantitative", "axis": null},
            "y": {"field": "v", "type": "quantitative", "axis": null},
            "text": {"field": "txt"}
          }
        }
      ]
    }
  ]
}
